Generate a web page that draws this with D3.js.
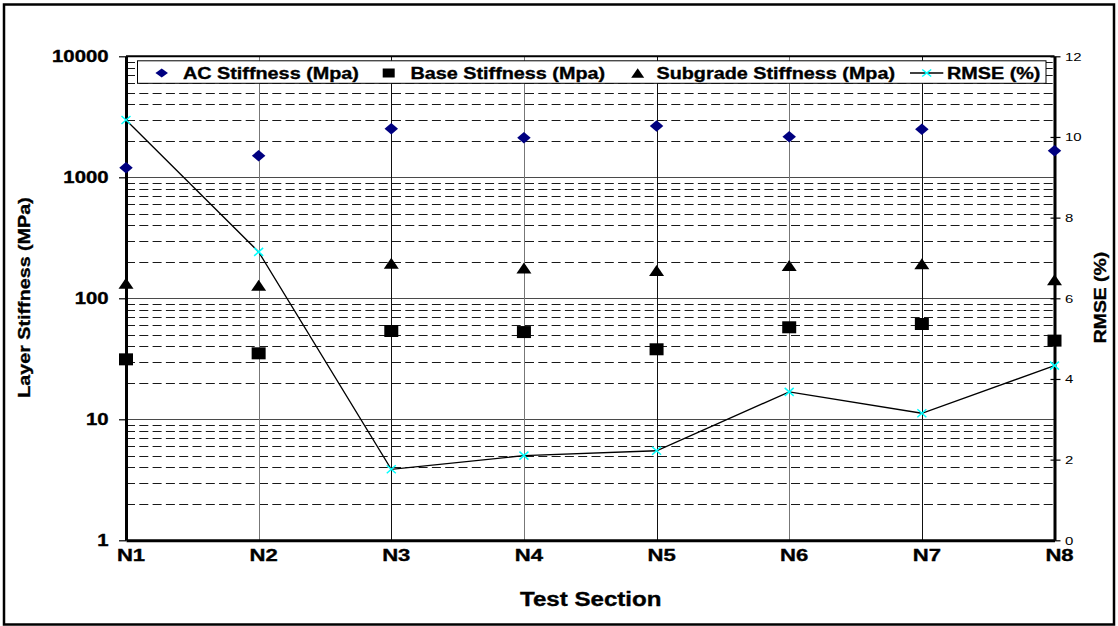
<!DOCTYPE html>
<html><head><meta charset="utf-8">
<script src="https://cdn.jsdelivr.net/npm/d3@7"></script>
<style>
html,body{margin:0;padding:0;background:#fff;}
svg{display:block;font-family:"Liberation Sans",Arial,Helvetica,sans-serif;}
</style></head><body>
<svg id="chart" width="1118" height="626"></svg>
<script>
// Layer stiffness per test section (MPa, log axis) and back-calculation RMSE (%, right axis)
const sections = ["N1", "N2", "N3", "N4", "N5", "N6", "N7", "N8"];
const acStiffness = [1200, 1510, 2520, 2125, 2655, 2166, 2494, 1660];
const baseStiffness = [31.3, 35.1, 53.7, 52.6, 37.9, 57.6, 61.3, 44.7];
const subgradeStiffness = [133, 128, 195, 178, 170, 187, 193, 142];
const rmse = [10.42, 7.15, 1.76, 2.10, 2.22, 3.68, 3.15, 4.33];
const stiffnessTicks = [1, 10, 100, 1000, 10000];
const rmseTicks = [0, 2, 4, 6, 8, 10, 12];
const legendLabels = ["AC Stiffness (Mpa)", "Base Stiffness (Mpa)", "Subgrade Stiffness (Mpa)", "RMSE (%)"];

const svg = d3.select("#chart");
const plot = {left: 126, right: 1054.5, top: 56.3, bottom: 540.3};

const x = d3.scalePoint().domain(sections).range([plot.left, plot.right]);
const y = d3.scaleLog().domain([1, 10000]).range([plot.bottom, plot.top]);
const yR = d3.scaleLinear().domain([0, 12]).range([plot.bottom, plot.top]);

// text helper: wide heavy face as in the spreadsheet export
function label(parent, txt, tx, ty, o) {
  o = o || {};
  const bold = (o.weight || "bold") === "bold";
  return parent.append("text")
    .attr("transform", `translate(${tx},${ty}) rotate(${o.rotate || 0}) scale(${o.sx || 1},1)`)
    .attr("text-anchor", o.anchor || "start")
    .attr("font-size", o.size || 16)
    .attr("font-weight", o.weight || "bold")
    .attr("fill", "#000")
    .attr("stroke", bold ? "#000" : "none")
    .attr("stroke-width", bold ? 0.35 : 0)
    .text(txt);
}

// outer frame
svg.append("rect")
  .attr("x", 4).attr("y", 4.5).attr("width", 1110).attr("height", 620)
  .attr("fill", "#fff").attr("stroke", "#000").attr("stroke-width", 2.5);

// horizontal gridlines: dashed minor, solid major
const minorVals = y.ticks().filter(v => !stiffnessTicks.includes(v));
const grid = svg.append("g");
grid.selectAll("line.minor").data(minorVals).join("line")
  .attr("class", "minor")
  .attr("x1", plot.left).attr("x2", plot.right)
  .attr("y1", d => Math.round(y(d)) + 0.5).attr("y2", d => Math.round(y(d)) + 0.5)
  .attr("stroke", "#1a1a1a").attr("stroke-width", 1)
  .attr("stroke-dasharray", "9,4.3");
grid.selectAll("line.major").data(stiffnessTicks.slice(1, -1)).join("line")
  .attr("class", "major")
  .attr("x1", plot.left).attr("x2", plot.right)
  .attr("y1", d => Math.round(y(d)) + 0.5).attr("y2", d => Math.round(y(d)) + 0.5)
  .attr("stroke", "#4a4a4a").attr("stroke-width", 1);

// vertical category gridlines
grid.selectAll("line.vert").data(sections.slice(1, -1)).join("line")
  .attr("class", "vert")
  .attr("x1", d => Math.round(x(d)) + 0.5).attr("x2", d => Math.round(x(d)) + 0.5)
  .attr("y1", plot.top).attr("y2", plot.bottom)
  .attr("stroke", (d, i) => i % 2 ? "#111" : "#777").attr("stroke-width", 1);

// top frame of the plot area
svg.append("line")
  .attr("x1", plot.left).attr("x2", plot.right)
  .attr("y1", plot.top).attr("y2", plot.top)
  .attr("stroke", "#000").attr("stroke-width", 2);

// left (log) axis
const axL = svg.append("g").attr("transform", `translate(${plot.left},0)`)
  .call(d3.axisLeft(y).tickValues(stiffnessTicks).tickSizeInner(7).tickSizeOuter(0).tickFormat(""));
axL.select(".domain").attr("stroke", "#000").attr("stroke-width", 3);
axL.selectAll(".tick line").attr("stroke", "#000").attr("stroke-width", 1.2);

// right (RMSE) axis with crossing ticks
const axR = svg.append("g").attr("transform", `translate(${plot.right},0)`)
  .call(d3.axisRight(yR).tickValues(rmseTicks).tickSizeInner(6).tickSizeOuter(0).tickFormat(""));
axR.select(".domain").attr("stroke", "#000").attr("stroke-width", 3);
axR.selectAll(".tick line").attr("x1", -4).attr("stroke", "#000").attr("stroke-width", 1.2);

// bottom axis
const axB = svg.append("g").attr("transform", `translate(0,${plot.bottom})`)
  .call(d3.axisBottom(x).tickSize(0).tickFormat(""));
axB.select(".domain").attr("stroke", "#000").attr("stroke-width", 3);

// tick labels
const tl = svg.append("g");
stiffnessTicks.forEach(v => label(tl, String(v), 108.5, y(v) + 6, {anchor: "end", size: 16, sx: 1.27}));
rmseTicks.forEach(v => label(tl, String(v), 1065, yR(v) + 4.3, {size: 11.5, sx: 1.3, weight: "normal"}));
sections.forEach(s => label(tl, s, x(s) + 5, 560.7, {anchor: "middle", size: 17, sx: 1.3}));

// axis titles
label(svg, "Layer Stiffness (MPa)", 29.7, 297.5, {anchor: "middle", size: 17, sx: 1.16, rotate: -90});
label(svg, "RMSE (%)", 1106.4, 297.5, {anchor: "middle", size: 17, sx: 1.14, rotate: -90});
label(svg, "Test Section", 590.7, 606, {anchor: "middle", size: 19.5, sx: 1.236});

// marker shapes
const diamond = (w, h) => `M0,${-h/2}L${w/2},0L0,${h/2}L${-w/2},0Z`;
const square = (w, h) => `M${-w/2},${-h/2}h${w}v${h}h${-w}Z`;
const triangle = (w, h) => `M0,${-h/2}L${w/2},${h/2}L${-w/2},${h/2}Z`;
const cross = (w, h) => `M${-w/2},${-h/2}L${w/2},${h/2}M${-w/2},${h/2}L${w/2},${-h/2}`;

const marks = svg.append("g");
marks.selectAll("path.ac").data(acStiffness).join("path")
  .attr("class", "ac")
  .attr("transform", (d, i) => `translate(${x(sections[i])},${y(d)})`)
  .attr("d", diamond(13.5, 11.5)).attr("fill", "#000080");
marks.selectAll("path.base").data(baseStiffness).join("path")
  .attr("class", "base")
  .attr("transform", (d, i) => `translate(${x(sections[i])},${y(d)})`)
  .attr("d", square(14, 12)).attr("fill", "#000");
marks.selectAll("path.sub").data(subgradeStiffness).join("path")
  .attr("class", "sub")
  .attr("transform", (d, i) => `translate(${x(sections[i])},${y(d)})`)
  .attr("d", triangle(15, 11)).attr("fill", "#000");

// RMSE line on secondary axis
const rmseLine = d3.line().x((d, i) => x(sections[i])).y(d => yR(d));
marks.append("path").datum(rmse)
  .attr("d", rmseLine).attr("fill", "none")
  .attr("stroke", "#000").attr("stroke-width", 1.3);
marks.selectAll("path.rm").data(rmse).join("path")
  .attr("class", "rm")
  .attr("transform", (d, i) => `translate(${x(sections[i])},${yR(d)})`)
  .attr("d", cross(9, 8)).attr("fill", "none")
  .attr("stroke", "#00ffff").attr("stroke-width", 1.5);

// legend
const lg = svg.append("g");
lg.append("rect")
  .attr("x", 137.5).attr("y", 60.8).attr("width", 908.5).attr("height", 22.5)
  .attr("fill", "#fff").attr("stroke", "#000").attr("stroke-width", 1);
const ly = 73;
lg.append("path").attr("transform", `translate(161.7,${ly})`).attr("d", diamond(12.5, 9)).attr("fill", "#000080");
lg.append("path").attr("transform", `translate(388.7,${ly})`).attr("d", square(12, 9)).attr("fill", "#000");
lg.append("path").attr("transform", `translate(637.7,${ly})`).attr("d", triangle(13, 9.5)).attr("fill", "#000");
lg.append("line").attr("x1", 910).attr("x2", 943.3).attr("y1", ly).attr("y2", ly)
  .attr("stroke", "#000").attr("stroke-width", 1.3);
lg.append("path").attr("transform", `translate(926.7,${ly})`).attr("d", cross(9, 7))
  .attr("fill", "none").attr("stroke", "#00ffff").attr("stroke-width", 1.5);
const lx = [183, 410.5, 656.5, 947];
legendLabels.forEach((t, i) => label(lg, t, lx[i], 79, {size: 17, sx: 1.165}));
</script>
</body></html>
